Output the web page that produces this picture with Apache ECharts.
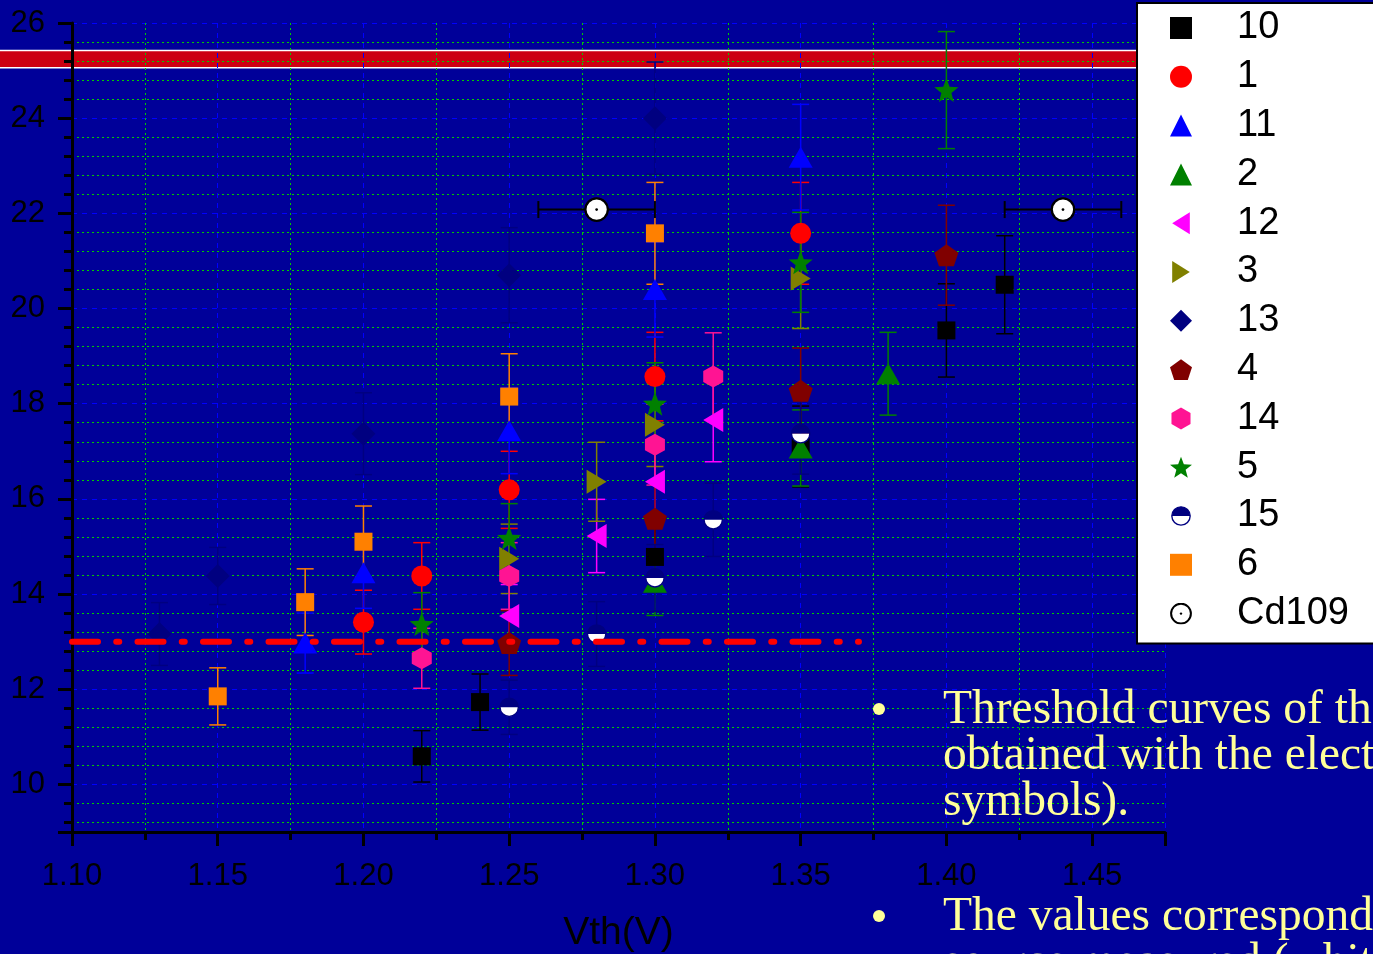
<!DOCTYPE html>
<html>
<head>
<meta charset="utf-8">
<script src="https://cdn.jsdelivr.net/npm/echarts@6/dist/echarts.min.js"></script>
<style>
  html, body { margin: 0; padding: 0; background: #000099; overflow: hidden; }
  #main { width: 1373px; height: 954px; }
</style>
</head>
<body>
<div id="main"></div>
<script>
// each row: [Vth (V), threshold, error]
const chip10 = [[1.22, 10.59, 0.54], [1.24, 11.73, 0.59], [1.30, 14.78, 0.72], [1.35, 17.1, 0.85], [1.40, 19.54, 0.98], [1.42, 20.5, 1.03]];
const chip1 = [[1.20, 13.41, 0.67], [1.22, 14.38, 0.70], [1.25, 16.19, 0.81], [1.30, 18.57, 0.93], [1.35, 21.58, 1.07]];
const chip11 = [[1.18, 12.97, 0.63], [1.20, 14.45, 0.75], [1.25, 17.43, 0.90], [1.30, 20.4, 1.0], [1.35, 23.18, 1.11]];
const chip2 = [[1.30, 14.25, 0.70], [1.35, 17.07, 0.80], [1.38, 18.63, 0.87]];
const chip12 = [[1.25, 13.54, 0.66], [1.28, 15.22, 0.77], [1.30, 16.36, 0.80], [1.32, 17.66, 0.88]];
const chip3 = [[1.25, 14.74, 0.73], [1.28, 16.36, 0.83], [1.30, 17.56, 0.88], [1.35, 20.63, 1.05]];
const chip13 = [[1.13, 13.16, 0.66], [1.15, 14.38, 0.60], [1.20, 17.37, 0.86], [1.25, 20.7, 1.0], [1.30, 24.0, 1.18]];
const chip4 = [[1.25, 12.97, 0.68], [1.30, 15.58, 0.78], [1.35, 18.27, 0.90], [1.40, 21.12, 1.05]];
const chip14 = [[1.22, 12.65, 0.63], [1.25, 14.38, 0.70], [1.30, 17.14, 0.85], [1.32, 18.57, 0.92]];
const chip5 = [[1.22, 13.37, 0.66], [1.25, 15.18, 0.72], [1.30, 18.0, 0.86], [1.35, 20.97, 1.05], [1.40, 24.59, 1.23]];
const chip15 = [[1.25, 11.62, 0.57], [1.28, 13.16, 0.68], [1.30, 14.34, 0.70], [1.32, 15.56, 0.77], [1.35, 17.37, 0.85]];
const chip6 = [[1.15, 11.85, 0.60], [1.18, 13.83, 0.70], [1.20, 15.1, 0.75], [1.25, 18.15, 0.90], [1.30, 21.58, 1.07]];
// Cd109 source: [Vth, threshold, horizontal error]
const cd109 = [[1.28, 22.08, 0.02], [1.44, 22.08, 0.02]];

const cutLineX = [1.10, 1.37];
const cutLineY = 13;
const bandLevel = [25.06, 25.42];

const xTicks = { min: 1.10, max: 1.475, step: 0.05 };
const yTicks = { min: 9, max: 26, step: 2 };

function starPath() {
  const pts = [];
  for (let i = 0; i < 10; i++) {
    const a = (-90 + i * 36) * Math.PI / 180;
    const r = i % 2 === 0 ? 1 : 0.42;
    pts.push((r * Math.cos(a)).toFixed(3) + ',' + (r * Math.sin(a)).toFixed(3));
  }
  return 'path://M' + pts.join(' L') + ' Z';
}
function svgSymbol(body) {
  return 'image://data:image/svg+xml;charset=utf-8,' + encodeURIComponent(
    "<svg xmlns='http://www.w3.org/2000/svg' width='24' height='24' viewBox='0 0 24 24'>" + body + '</svg>');
}
const pentagon = 'path://M0,-1 L0.951,-0.309 L0.588,0.809 L-0.588,0.809 L-0.951,-0.309 Z';
const hexagon = 'path://M0,-1 L0.866,-0.5 L0.866,0.5 L0,1 L-0.866,0.5 L-0.866,-0.5 Z';
const leftTri = 'path://M0,5 L8,0 L8,10 Z';
const rightTri = 'path://M0,0 L8,5 L0,10 Z';
const halfCircle = svgSymbol("<path d='M2,12 A10,10 0 0 1 22,12 Z' fill='#000080'/><path d='M2,12 A10,10 0 0 0 22,12 Z' fill='#ffffff'/><circle cx='12' cy='12' r='10' fill='none' stroke='#000080' stroke-width='1.5'/>");
const dotCircle = svgSymbol("<circle cx='12' cy='12' r='10.8' fill='#ffffff' stroke='#000000' stroke-width='2.2'/><circle cx='12' cy='12' r='1.3' fill='#000000'/>");

const sets = [
  { name: '10', rows: chip10, color: '#000000', symbol: 'rect', size: 18 },
  { name: '1', rows: chip1, color: '#ff0000', symbol: 'circle', size: 21 },
  { name: '11', rows: chip11, color: '#0000ff', symbol: 'triangle', size: [24, 21] },
  { name: '2', rows: chip2, color: '#008000', symbol: 'triangle', size: [24, 21] },
  { name: '12', rows: chip12, color: '#ff00ff', symbol: leftTri, size: [20, 24] },
  { name: '3', rows: chip3, color: '#808000', symbol: rightTri, size: [20, 24] },
  { name: '13', rows: chip13, color: '#000080', symbol: 'diamond', size: 24 },
  { name: '4', rows: chip4, color: '#800000', symbol: pentagon, size: [24, 22] },
  { name: '14', rows: chip14, color: '#ff1493', symbol: hexagon, size: [20, 22] },
  { name: '5', rows: chip5, color: '#008000', symbol: starPath(), size: 24 },
  { name: '15', rows: chip15, color: '#000080', symbol: halfCircle, size: 22 },
  { name: '6', rows: chip6, color: '#ff8000', symbol: 'rect', size: 18 },
  { name: 'Cd109', rows: cd109, color: '#000000', symbol: dotCircle, size: 25, horizontal: true }
];

function errorBars(set) {
  return {
    name: set.name + '-err',
    type: 'custom',
    data: set.rows,
    encode: { x: 0, y: 1 },
    silent: true,
    renderItem: function (params, api) {
      const x = api.value(0), y = api.value(1), e = api.value(2);
      const a = set.horizontal ? api.coord([x - e, y]) : api.coord([x, y + e]);
      const b = set.horizontal ? api.coord([x + e, y]) : api.coord([x, y - e]);
      const cap = 8.5;
      const style = { stroke: set.color, lineWidth: set.horizontal ? 2 : 1.5 };
      const segs = [[a[0], a[1], b[0], b[1]]];
      if (set.horizontal) {
        segs.push([a[0], a[1] - cap, a[0], a[1] + cap], [b[0], b[1] - cap, b[0], b[1] + cap]);
      } else {
        segs.push([a[0] - cap, a[1], a[0] + cap, a[1]], [b[0] - cap, b[1], b[0] + cap, b[1]]);
      }
      return {
        type: 'group',
        children: segs.map(s => ({ type: 'line', shape: { x1: s[0], y1: s[1], x2: s[2], y2: s[3] }, style: style }))
      };
    }
  };
}

const series = [{
  name: 'cut',
  type: 'line',
  data: cutLineX.map(x => [x, cutLineY]),
  symbol: 'none',
  silent: true,
  lineStyle: { color: '#ff0000', width: 6, type: [26, 18.25, 3, 18.25], cap: 'round' }
}];
sets.forEach(set => {
  series.push({
    name: set.name,
    type: 'scatter',
    data: set.rows,
    encode: { x: 0, y: 1 },
    symbol: set.symbol,
    symbolSize: set.size,
    itemStyle: { color: set.color, opacity: 1 }
  });
  series.push(errorBars(set));
});

const tickFont = { fontFamily: 'Liberation Sans, Arial, sans-serif', fontSize: 31, color: '#000' };

const chart = echarts.init(document.getElementById('main'));
chart.setOption({
  animation: false,
  backgroundColor: '#000099',
  grid: { left: 72, right: 208, top: 23, bottom: 122, containLabel: false, outerBoundsMode: 'none' },
  legend: {
    orient: 'vertical',
    left: 1137,
    top: 3,
    data: sets.map(s => s.name),
    selectedMode: false,
    backgroundColor: '#ffffff',
    borderColor: '#000000',
    borderWidth: 2,
    padding: [5, 80, 10, 33],
    itemWidth: 22,
    itemHeight: 22,
    itemGap: 8.8,
    textStyle: { fontFamily: 'Liberation Sans, Arial, sans-serif', fontSize: 38, color: '#000', lineHeight: 40, padding: [0, 0, 0, 40] }
  },
  xAxis: {
    type: 'value',
    min: xTicks.min,
    max: xTicks.max,
    interval: xTicks.step,
    name: 'Vth(V)',
    nameLocation: 'middle',
    nameGap: 82,
    nameTextStyle: { fontFamily: 'Liberation Sans, Arial, sans-serif', fontSize: 39, color: '#000' },
    axisLine: { onZero: false, lineStyle: { color: '#000', width: 3 } },
    axisTick: { length: 14, lineStyle: { color: '#000', width: 3 } },
    minorTick: { show: true, splitNumber: 2, length: 8, lineStyle: { color: '#000', width: 3 } },
    axisLabel: Object.assign({
      margin: 29,
      formatter: v => (Math.round(v * 1000) % 50 === 0 ? v.toFixed(2) : '')
    }, tickFont),
    splitLine: { show: true, lineStyle: { color: '#0000ff', width: 1, type: [5, 5] } },
    minorSplitLine: { show: true, lineStyle: { color: '#00cc00', width: 1, type: [2, 3] } }
  },
  yAxis: {
    type: 'value',
    min: yTicks.min,
    max: yTicks.max,
    splitNumber: 8,
    minInterval: yTicks.step,
    maxInterval: yTicks.step,
    axisLine: { onZero: false, lineStyle: { color: '#000', width: 3 } },
    axisTick: { length: 14, lineStyle: { color: '#000', width: 3 } },
    minorTick: { show: true, splitNumber: 5, length: 8, lineStyle: { color: '#000', width: 3 } },
    axisLabel: Object.assign({
      margin: 27,
      formatter: v => (Math.abs(v % 2) < 1e-9 ? String(v) : '')
    }, tickFont),
    splitLine: { show: true, lineStyle: { color: '#0000ff', width: 1, type: [5, 5] } },
    minorSplitLine: { show: true, lineStyle: { color: '#00cc00', width: 1, type: [2, 3] } }
  },
  series: series
});

// red band at the top, drawn through the chart's own y scale
const yTop = chart.convertToPixel({ yAxisIndex: 0 }, bandLevel[1]);
const yBot = chart.convertToPixel({ yAxisIndex: 0 }, bandLevel[0]);
const noteFont = { fontFamily: 'Liberation Serif, Times New Roman, serif', fontSize: 47.5, fill: '#ffff99' };
const notes = [
  { y: 711, text: 'Threshold curves of the chips' },
  { y: 757, text: 'obtained with the electrons (full' },
  { y: 803, text: 'symbols).' },
  { y: 918, text: 'The values corresponding to the Cd109' },
  { y: 964, text: 'source measured (white circles).' }
];
chart.setOption({
  graphic: [
    {
      type: 'rect', z: -1, silent: true,
      shape: { x: -2, y: yTop, width: 1380, height: yBot - yTop },
      style: { fill: '#cc0011', stroke: '#ffffff', lineWidth: 1.5 }
    },
    { type: 'circle', z: 100, shape: { cx: 879, cy: 709, r: 6 }, style: { fill: '#ffff99' } },
    { type: 'circle', z: 100, shape: { cx: 879, cy: 916, r: 6 }, style: { fill: '#ffff99' } }
  ].concat(notes.map(n => ({
    type: 'text', z: 100, x: 943, y: n.y,
    style: Object.assign({ text: n.text, verticalAlign: 'middle' }, noteFont)
  })))
});
</script>
</body>
</html>
